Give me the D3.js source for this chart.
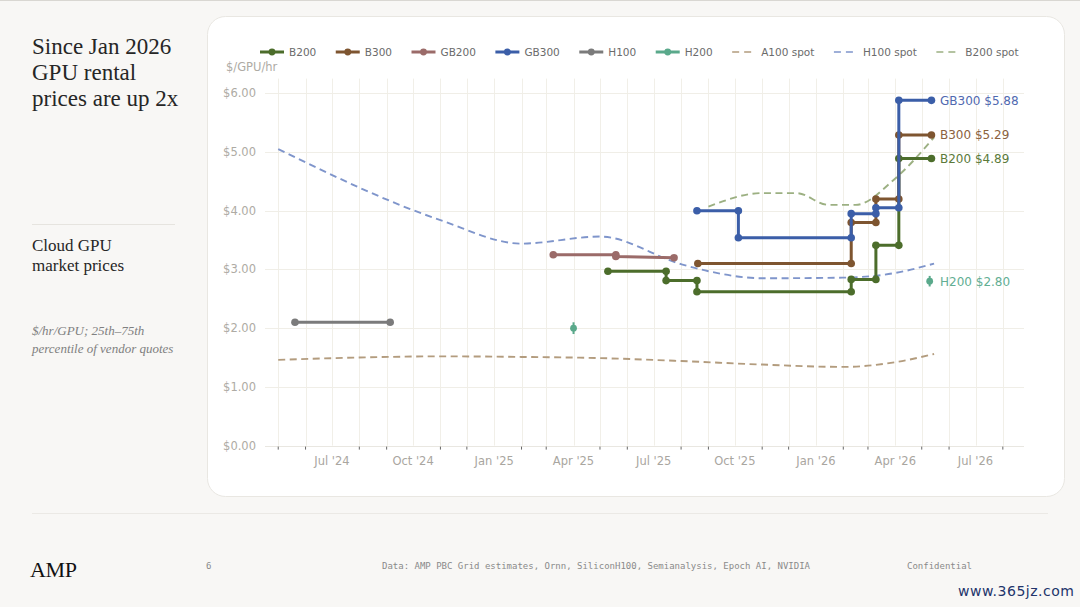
<!DOCTYPE html>
<html lang="en">
<head>
<meta charset="UTF-8">
<title>Cloud GPU market prices</title>
<script src="https://d3js.org/d3.v7.min.js"></script>
<style>
  body { margin: 0; background: #f8f7f5; }
  svg { display: block; }
  .serif { font-family: 'Liberation Serif', serif; fill: #262626; }
  .sans { font-family: 'DejaVu Sans', sans-serif; }
  .mono { font-family: 'DejaVu Sans Mono', monospace; fill: #8a8a8a; font-size: 9px; }
</style>
</head>
<body>
<svg id="slide" width="1080" height="607"></svg>
<script>
// step series: [date, $/hr]; each price change has two points on the same date
const b200 = [["2025-05-10", 2.97], ["2025-07-15", 2.97], ["2025-07-15", 2.81], ["2025-08-19", 2.81],
  ["2025-08-19", 2.62], ["2026-02-10", 2.62], ["2026-02-10", 2.83], ["2026-03-10", 2.83],
  ["2026-03-10", 3.41], ["2026-04-05", 3.41], ["2026-04-05", 4.89], ["2026-05-12", 4.89]];
const b300 = [["2025-08-20", 3.10], ["2026-02-10", 3.10], ["2026-02-10", 3.80], ["2026-03-10", 3.80],
  ["2026-03-10", 4.20], ["2026-04-05", 4.20], ["2026-04-05", 5.29], ["2026-05-12", 5.29]];
const gb200 = [["2025-03-09", 3.25], ["2025-05-19", 3.25], ["2025-05-19", 3.22], ["2025-07-24", 3.20]];
const gb300 = [["2025-08-19", 4.00], ["2025-10-05", 4.00], ["2025-10-05", 3.54], ["2026-02-10", 3.54],
  ["2026-02-10", 3.95], ["2026-03-10", 3.95], ["2026-03-10", 4.05], ["2026-04-05", 4.05],
  ["2026-04-05", 5.88], ["2026-05-12", 5.88]];
const h100 = [["2024-05-20", 2.10], ["2024-09-05", 2.10]];
// H200: [date, median, p25, p75]
const h200 = [["2025-04-01", 2.00, 1.90, 2.10], ["2026-05-10", 2.80, 2.71, 2.89]];

// spot price curves
const a100Spot = [["2024-05-01", 1.46], ["2024-08-01", 1.50], ["2024-11-01", 1.52], ["2025-02-01", 1.51],
  ["2025-05-01", 1.49], ["2025-08-01", 1.44], ["2025-11-01", 1.38], ["2026-02-01", 1.34],
  ["2026-04-01", 1.42], ["2026-05-15", 1.56]];
const h100Spot = [["2024-05-01", 5.05], ["2024-11-01", 3.84], ["2025-02-01", 3.44], ["2025-05-01", 3.56],
  ["2025-08-01", 3.09], ["2025-09-01", 2.97], ["2025-11-01", 2.85], ["2026-02-01", 2.86],
  ["2026-04-01", 2.94], ["2026-05-15", 3.10]];
const b200Spot = [["2025-09-01", 4.07], ["2025-11-01", 4.30], ["2025-12-10", 4.30], ["2026-01-15", 4.10],
  ["2026-02-15", 4.10], ["2026-04-01", 4.55], ["2026-05-15", 5.25]];

const yTicks = [0, 1, 2, 3, 4, 5, 6];
const endLabels = [["GB300", 5.88], ["B300", 5.29], ["B200", 4.89], ["H200", 2.80]];

const colors = {
  "B200": "#4c6d2b", "B300": "#7e5530", "GB200": "#9b6b69", "GB300": "#3b5ea8",
  "H100": "#7b7b7b", "H200": "#5aa98b",
  "A100 spot": "#b39c7e", "H100 spot": "#7f95cb", "B200 spot": "#9cb082"
};
const labelColors = { "GB300": "#5069b0", "B300": "#8b6240", "B200": "#5b7a3a", "H200": "#62ae93" };

const stepSeries = [["B200", b200], ["B300", b300], ["GB200", gb200], ["GB300", gb300], ["H100", h100]];
const spotSeries = [["A100 spot", a100Spot], ["H100 spot", h100Spot], ["B200 spot", b200Spot]];
const legendNames = ["B200", "B300", "GB200", "GB300", "H100", "H200", "A100 spot", "H100 spot", "B200 spot"];

const parse = d3.utcParse("%Y-%m-%d");
const svg = d3.select("#slide");

// ---- slide frame ----
svg.append("rect").attr("width", 1080).attr("height", 607).attr("fill", "#f8f7f5");
svg.append("line").attr("x1", 0).attr("x2", 1080).attr("y1", 0.5).attr("y2", 0.5).attr("stroke", "#d9d7d2");
svg.append("rect").attr("x", 207.5).attr("y", 16.5).attr("width", 857).attr("height", 480)
  .attr("rx", 18).attr("fill", "#fff").attr("stroke", "#e9e7e2");

const left = svg.append("g");
["Since Jan 2026", "GPU rental", "prices are up 2x"].forEach((t, i) => {
  left.append("text").attr("class", "serif").attr("x", 32).attr("y", 54 + i * 26)
    .style("font-size", "23px").text(t);
});
left.append("line").attr("x1", 32).attr("x2", 175).attr("y1", 224.5).attr("y2", 224.5).attr("stroke", "#e6e4df");
["Cloud GPU", "market prices"].forEach((t, i) => {
  left.append("text").attr("class", "serif").attr("x", 32).attr("y", 251 + i * 20)
    .style("font-size", "17px").text(t);
});
["$/hr/GPU; 25th\u201375th", "percentile of vendor quotes"].forEach((t, i) => {
  left.append("text").attr("class", "serif").attr("x", 32).attr("y", 335 + i * 18)
    .style("font-size", "13px").style("font-style", "italic").style("fill", "#808080").text(t);
});

svg.append("line").attr("x1", 32).attr("x2", 1048).attr("y1", 513.5).attr("y2", 513.5).attr("stroke", "#ebe9e5");
svg.append("text").attr("class", "serif").attr("x", 30).attr("y", 577).style("font-size", "22px")
  .style("fill", "#111").attr("textLength", 47).text("AMP");
svg.append("text").attr("class", "mono").attr("x", 206).attr("y", 569).text("6");
svg.append("text").attr("class", "mono").attr("x", 596).attr("y", 569).attr("text-anchor", "middle")
  .text("Data: AMP PBC Grid estimates, Ornn, SiliconH100, Semianalysis, Epoch AI, NVIDIA");
svg.append("text").attr("class", "mono").attr("x", 907).attr("y", 569).text("Confidential");
svg.append("text").attr("class", "sans").attr("x", 1074).attr("y", 596).attr("text-anchor", "end")
  .style("font-size", "14px").style("fill", "#22346b").attr("textLength", 116).text("www.365jz.com");

// ---- chart ----
const x = d3.scaleUtc()
  .domain([parse("2024-04-16"), parse("2026-08-25")])
  .range([265, 1024]);
const y = d3.scaleLinear().domain([0, 6.25]).range([445.6, 78.6]);

const chart = svg.append("g");
const months = x.ticks(d3.utcMonth.every(1)).filter(d => x(d) > 266);
const isMajor = d => d.getUTCMonth() % 3 === 0;

chart.append("g").selectAll("line").data(months).join("line")
  .attr("x1", d => Math.round(x(d)) + 0.5).attr("x2", d => Math.round(x(d)) + 0.5)
  .attr("y1", y.range()[1]).attr("y2", y(0))
  .attr("stroke", "#f1efe8");
chart.append("g").selectAll("line").data(yTicks.slice(1)).join("line")
  .attr("x1", x.range()[0]).attr("x2", x.range()[1])
  .attr("y1", d => Math.round(y(d)) + 0.5).attr("y2", d => Math.round(y(d)) + 0.5)
  .attr("stroke", "#f0eee7");
chart.append("line").attr("x1", x.range()[0]).attr("x2", x.range()[1])
  .attr("y1", Math.round(y(0)) + 0.5).attr("y2", Math.round(y(0)) + 0.5).attr("stroke", "#e9e7e1");

chart.append("g").selectAll("line").data(months.filter(d => !isMajor(d))).join("line")
  .attr("x1", d => x(d)).attr("x2", d => x(d))
  .attr("y1", y(0) + 1).attr("y2", y(0) + 4).attr("stroke", "#666").attr("stroke-width", 1);

chart.append("g").selectAll("text").data(months.filter(isMajor)).join("text")
  .attr("class", "sans").attr("x", d => x(d)).attr("y", 465).attr("text-anchor", "middle")
  .style("font-size", "11.5px").style("fill", "#a9a6a0")
  .text(d => d3.utcFormat("%b '%y")(d));

chart.append("g").selectAll("text").data(yTicks).join("text")
  .attr("class", "sans").attr("x", 256).attr("y", d => y(d) + 4).attr("text-anchor", "end")
  .style("font-size", "11.5px").style("fill", "#aeaba4")
  .text(d => "$" + d.toFixed(2));
chart.append("text").attr("class", "sans").attr("x", 226).attr("y", 71)
  .style("font-size", "11.5px").style("fill", "#aeaba4").text("$/GPU/hr");

// spot curves
const curveLine = d3.line().x(d => x(parse(d[0]))).y(d => y(d[1])).curve(d3.curveMonotoneX);
spotSeries.forEach(([name, pts]) => {
  chart.append("path").attr("d", curveLine(pts)).attr("fill", "none")
    .attr("stroke", colors[name]).attr("stroke-width", 1.9).attr("stroke-dasharray", "7,4.5");
});

// stepped price series
const stepLine = d3.line().x(d => x(parse(d[0]))).y(d => y(d[1]));
stepSeries.forEach(([name, pts]) => {
  const g = chart.append("g");
  g.append("path").attr("d", stepLine(pts)).attr("fill", "none")
    .attr("stroke", colors[name]).attr("stroke-width", 3).attr("stroke-linejoin", "round");
  g.selectAll("circle").data(pts).join("circle")
    .attr("cx", d => x(parse(d[0]))).attr("cy", d => y(d[1])).attr("r", 3.8)
    .attr("fill", colors[name]);
});

// H200 points with quartile whiskers
const h200g = chart.append("g");
h200g.selectAll("line").data(h200).join("line")
  .attr("x1", d => x(parse(d[0]))).attr("x2", d => x(parse(d[0])))
  .attr("y1", d => y(d[2])).attr("y2", d => y(d[3]))
  .attr("stroke", colors["H200"]).attr("stroke-width", 2);
h200g.selectAll("circle").data(h200).join("circle")
  .attr("cx", d => x(parse(d[0]))).attr("cy", d => y(d[1])).attr("r", 3.4)
  .attr("fill", colors["H200"]);

// end labels
chart.append("g").selectAll("text").data(endLabels).join("text")
  .attr("class", "sans").attr("x", 940).attr("y", d => y(d[1]) + 4.5)
  .style("font-size", "12px").style("fill", d => labelColors[d[0]])
  .text(d => `${d[0]} $${d[1].toFixed(2)}`);

// legend
const legend = svg.append("g");
let lx = 260;
legendNames.forEach(name => {
  const item = legend.append("g").attr("transform", `translate(${lx},52)`);
  if (name.endsWith("spot")) {
    item.append("line").attr("x1", 0).attr("x2", 22).attr("stroke", colors[name])
      .attr("stroke-width", 1.7).attr("stroke-dasharray", "7,5");
  } else {
    item.append("line").attr("x1", 0).attr("x2", 24).attr("stroke", colors[name]).attr("stroke-width", 3);
    item.append("circle").attr("cx", 12).attr("r", 3.4).attr("fill", colors[name]);
  }
  const t = item.append("text").attr("class", "sans").attr("x", 29).attr("y", 4)
    .style("font-size", "10.5px").style("fill", "#6b6b6b").text(name);
  lx += 29 + t.node().getComputedTextLength() + 19.5;
});
</script>
</body>
</html>
